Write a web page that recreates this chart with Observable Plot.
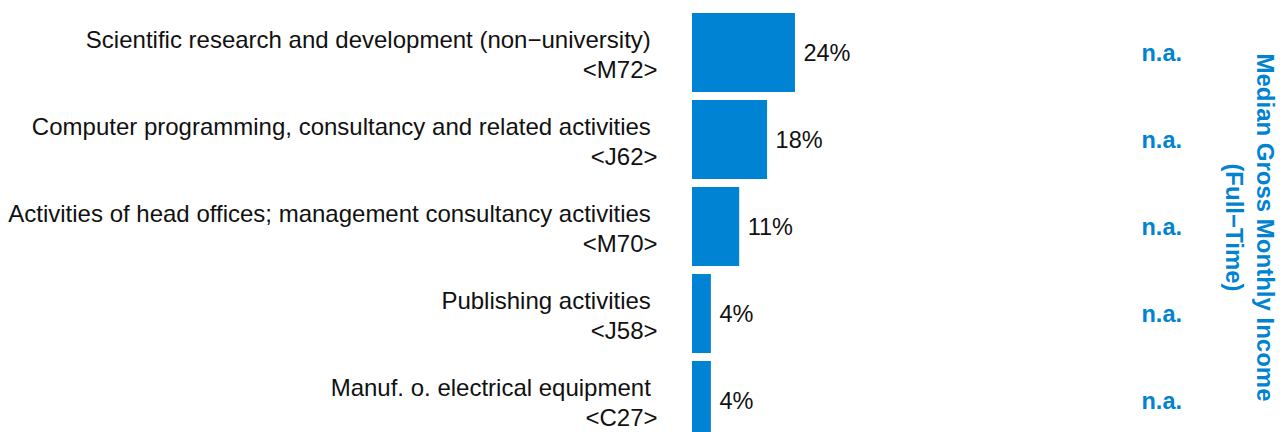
<!DOCTYPE html>
<html>
<head>
<meta charset="utf-8">
<script src="https://cdn.jsdelivr.net/npm/d3@7"></script>
<script src="https://cdn.jsdelivr.net/npm/@observablehq/plot@0.6"></script>
<style>
  html, body { margin: 0; padding: 0; background: #fff; overflow: hidden; }
</style>
</head>
<body>
<div id="chart"></div>
<script>
// ---- data ----
const industries = [
  "Scientific research and development (non−university)",
  "Computer programming, consultancy and related activities",
  "Activities of head offices; management consultancy activities",
  "Publishing activities",
  "Manuf. o. electrical equipment"
];
const codes = ["<M72>", "<J62>", "<M70>", "<J58>", "<C27>"];
const shares = [24.0, 17.5, 11.0, 4.4, 4.4];
const shareLabels = ["24%", "18%", "11%", "4%", "4%"];
const incomeLabels = ["n.a.", "n.a.", "n.a.", "n.a.", "n.a."];
const sideTitle = ["Median Gross Monthly Income\n(Full−Time)"];

// ---- styles ----
const blue = "#0083d3";
const font = "'Liberation Sans', Arial, Helvetica, sans-serif";

const rows = industries.map((name, i) => ({
  name,
  code: codes[i],
  share: shares[i],
  label: shareLabels[i],
  income: incomeLabels[i],
  full: name + "\u00a0\n" + codes[i]
}));

const chart = Plot.plot({
  width: 1284,
  height: 432,
  marginTop: 0,
  marginBottom: 0,
  marginLeft: 692,
  marginRight: 163,
  style: { fontFamily: font, background: "#fff", overflow: "hidden" },
  x: { domain: [0, 100], axis: null },
  y: { domain: industries, range: [4.6, 448.2], padding: 0.093, axis: null },
  marks: [
    Plot.barX(rows, { x: "share", y: "name", fill: blue }),
    Plot.text(rows, {
      x: "share", y: "name", text: "label",
      textAnchor: "start", dx: 8, fontSize: 23.5, fill: "#111"
    }),
    Plot.text(rows, {
      x: 0, y: "name", text: "full",
      textAnchor: "end", dx: -35, fontSize: 24, lineHeight: 1.25, fill: "#111"
    }),
    Plot.text(rows, {
      y: "name", text: "income", frameAnchor: "right",
      textAnchor: "start", dx: 20, fontSize: 23.5, fontWeight: "bold", fill: blue
    }),
    Plot.text(sideTitle, {
      text: d => d, frameAnchor: "right", rotate: 90,
      dx: 130, dy: 11, fontSize: 24, fontWeight: "bold", lineHeight: 1.3,
      textAnchor: "middle", fill: blue
    })
  ]
});

document.getElementById("chart").appendChild(chart);
</script>
</body>
</html>
